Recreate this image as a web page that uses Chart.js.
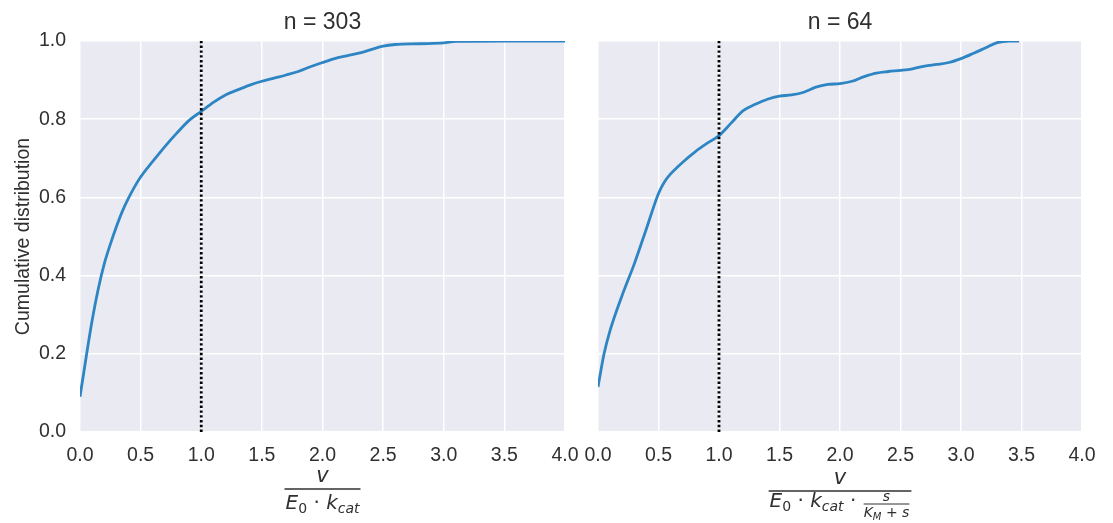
<!DOCTYPE html>
<html>
<head>
<meta charset="utf-8">
<script src="https://cdn.jsdelivr.net/npm/chart.js@4"></script>
<style>
  body { margin: 0; background: #fff; }
  .panel { position: absolute; top: 0; height: 523px; }
</style>
</head>
<body>
<div class="panel" style="left:0;width:580px"><canvas id="leftChart" width="580" height="523"></canvas></div>
<div class="panel" style="left:580px;width:533px"><canvas id="rightChart" width="533" height="523"></canvas></div>
<script>
// values
const panelTitles = ['n = 303', 'n = 64'];
const yLabel = 'Cumulative distribution';
const xTickValues = [0, 0.5, 1, 1.5, 2, 2.5, 3, 3.5, 4];
const yTickValues = [0, 0.2, 0.4, 0.6, 0.8, 1.0];
const refX = 1.0;

const leftX = [0, 0.05, 0.1, 0.15, 0.2, 0.25, 0.3, 0.35, 0.4, 0.45, 0.5, 0.6, 0.7, 0.8, 0.9, 1.0, 1.1, 1.2, 1.3, 1.4, 1.5, 1.6, 1.7, 1.8, 1.9, 2.0, 2.1, 2.2, 2.3, 2.4, 2.5, 2.6, 2.8, 3.0, 3.1, 3.5, 4.0];
const leftY = [0.09, 0.19, 0.285, 0.365, 0.43, 0.48, 0.525, 0.565, 0.598, 0.627, 0.652, 0.692, 0.73, 0.765, 0.797, 0.82, 0.843, 0.862, 0.875, 0.887, 0.897, 0.905, 0.913, 0.922, 0.934, 0.945, 0.955, 0.962, 0.969, 0.978, 0.987, 0.991, 0.993, 0.995, 0.999, 1.0, 1.0];

const rightX = [0, 0.05, 0.1, 0.2, 0.3, 0.4, 0.5, 0.55, 0.6, 0.7, 0.8, 0.9, 1.0, 1.1, 1.2, 1.3, 1.4, 1.5, 1.6, 1.7, 1.8, 1.9, 2.0, 2.1, 2.2, 2.3, 2.4, 2.5, 2.6, 2.7, 2.8, 2.9, 3.0, 3.1, 3.2, 3.3, 3.4, 3.48];
const rightY = [0.115, 0.2, 0.26, 0.35, 0.43, 0.52, 0.61, 0.64, 0.66, 0.69, 0.716, 0.738, 0.758, 0.79, 0.822, 0.838, 0.851, 0.859, 0.862, 0.869, 0.882, 0.889, 0.891, 0.897, 0.909, 0.918, 0.922, 0.925, 0.929, 0.936, 0.94, 0.945, 0.955, 0.968, 0.982, 0.996, 1.0, 1.0];

const TEXT = '#303030';
const SANS = "'Liberation Sans', Arial, sans-serif";
const MATH = "'DejaVu Sans', sans-serif";

// math label pieces: [text, font, dy]
const leftDenom = [
  ['E', 'italic 20px', 0], ['0', '14px', 4], [' \u00b7 ', '20px', 0],
  ['k', 'italic 20px', 0], ['cat', 'italic 14px', 4]
];
const rightDenom = [
  ['E', 'italic 20px', 0], ['0', '14px', 4], [' \u00b7 ', '20px', 0],
  ['k', 'italic 20px', 0], ['cat', 'italic 14px', 4], [' \u00b7 ', '20px', 0]
];
const smallDenom = [
  ['K', 'italic 14px', 0], ['M', 'italic 10px', 3], [' + ', '14px', 0], ['s', 'italic 14px', 0]
];

function segsWidth(ctx, segs) {
  let w = 0;
  segs.forEach(s => { ctx.font = s[1] + ' ' + MATH; w += ctx.measureText(s[0]).width; });
  return w;
}
function drawSegs(ctx, segs, x, y) {
  segs.forEach(s => {
    ctx.font = s[1] + ' ' + MATH;
    ctx.fillText(s[0], x, y + s[2]);
    x += ctx.measureText(s[0]).width;
  });
  return x;
}
function hline(ctx, x1, x2, y, w) {
  ctx.beginPath();
  ctx.lineWidth = w;
  ctx.moveTo(x1, y);
  ctx.lineTo(x2, y);
  ctx.stroke();
}

const decorPlugin = {
  id: 'decor',
  beforeDraw(chart, args, opts) {
    const a = chart.chartArea, ctx = chart.ctx;
    ctx.save();
    ctx.fillStyle = '#eaeaf2';
    ctx.fillRect(a.left, a.top, a.right - a.left, a.bottom - a.top);
    ctx.restore();
  },
  afterDraw(chart, args, opts) {
    const a = chart.chartArea, ctx = chart.ctx;
    const cx = (a.left + a.right) / 2;
    ctx.save();
    ctx.fillStyle = TEXT;
    ctx.strokeStyle = TEXT;
    ctx.textBaseline = 'alphabetic';
    // panel title
    ctx.font = '23px ' + SANS;
    ctx.textAlign = 'center';
    ctx.fillText(opts.title, cx, 29);
    // y axis title
    if (opts.yTitle) {
      ctx.save();
      ctx.translate(29, (a.top + a.bottom) / 2);
      ctx.rotate(-Math.PI / 2);
      ctx.font = '19.5px ' + SANS;
      ctx.fillText(opts.yTitle, 0, 0);
      ctx.restore();
    }
    // x axis math title
    ctx.textAlign = 'left';
    const w = segsWidth(ctx, opts.denom);
    const sw = opts.small ? segsWidth(ctx, opts.small) + 2 : 0;
    const total = w + sw;
    const x0 = cx - total / 2;
    const topY = opts.small ? 491 : 489;
    const denY = opts.small ? 507 : 509;
    ctx.font = 'italic 21px ' + MATH;
    ctx.textAlign = 'center';
    ctx.fillText('v', cx, topY - 7);
    ctx.textAlign = 'left';
    hline(ctx, x0 - 1, x0 + total + 1, topY, 1.4);
    const xe = drawSegs(ctx, opts.denom, x0, denY);
    if (opts.small) {
      const sx = xe + 1;
      const sMid = sx + (sw - 2) / 2;
      ctx.font = 'italic 14px ' + MATH;
      ctx.textAlign = 'center';
      ctx.fillText('s', sMid, 501);
      ctx.textAlign = 'left';
      hline(ctx, sx, sx + sw - 2, 504, 1);
      drawSegs(ctx, opts.small, sx, 517);
    }
    ctx.restore();
  }
};

function setTicks(values) {
  return scale => { scale.ticks = values.map(v => ({ value: v })); };
}

function makeChart(id, xs, ys, opts) {
  const curve = xs.map((x, i) => ({ x: x, y: ys[i] }));
  return new Chart(document.getElementById(id), {
    type: 'line',
    data: {
      datasets: [{
        data: [{ x: refX, y: 0 }, { x: refX, y: 1 }],
        borderColor: '#000',
        borderWidth: 2.8,
        borderDash: [2.4, 2.4],
        pointRadius: 0,
        order: 0
      }, {
        data: curve,
        borderColor: '#2d85c4',
        borderWidth: 2.8,
        cubicInterpolationMode: 'monotone',
        pointRadius: 0,
        order: 1
      }]
    },
    options: {
      responsive: false,
      animation: false,
      devicePixelRatio: 1,
      layout: { padding: { top: 41, right: opts.padRight, left: opts.padLeft, bottom: 0 } },
      scales: {
        x: {
          type: 'linear',
          min: 0, max: 4,
          afterBuildTicks: setTicks(xTickValues),
          afterFit: s => { s.height = 91; s.paddingLeft = 0; s.paddingRight = 0; },
          border: { display: false },
          grid: { color: '#ffffff', lineWidth: 1.5, drawTicks: false },
          ticks: {
            padding: 12,
            color: TEXT,
            font: { family: SANS, size: 19.5 },
            maxRotation: 0,
            callback: v => v.toFixed(1)
          }
        },
        y: {
          min: 0, max: 1,
          afterBuildTicks: setTicks(yTickValues),
          afterFit: s => { s.width = opts.yWidth; s.paddingTop = 0; s.paddingBottom = 0; },
          border: { display: false },
          grid: { color: '#ffffff', lineWidth: 1.5, drawTicks: false },
          ticks: {
            display: opts.yTicks,
            padding: 14,
            color: TEXT,
            font: { family: SANS, size: 19.5 },
            callback: v => v.toFixed(1)
          }
        }
      },
      plugins: {
        legend: { display: false },
        tooltip: { enabled: false },
        decor: opts.decor
      }
    },
    plugins: [decorPlugin]
  });
}

makeChart('leftChart', leftX, leftY, {
  padLeft: 0, padRight: 15, yWidth: 80, yTicks: true,
  decor: { title: panelTitles[0], yTitle: yLabel, denom: leftDenom }
});
makeChart('rightChart', rightX, rightY, {
  padLeft: 0, padRight: 31, yWidth: 18, yTicks: false,
  decor: { title: panelTitles[1], denom: rightDenom, small: smallDenom }
});
</script>
</body>
</html>
